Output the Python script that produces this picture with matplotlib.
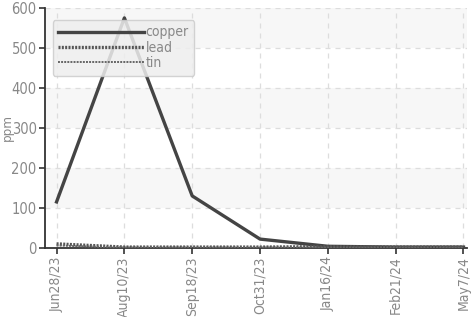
import matplotlib.pyplot as plt
from matplotlib.patches import Rectangle
from matplotlib import font_manager

dates = ['Jun28/23', 'Aug10/23', 'Sep18/23', 'Oct31/23', 'Jan16/24', 'Feb21/24', 'May7/24']
copper = [115, 575, 130, 22, 4, 2, 2]
lead = [10, 2, 2, 2, 3, 2, 2]
tin = [6, 1, 1, 1, 1, 1, 1]

names = {f.name for f in font_manager.fontManager.ttflist}
fam = 'Liberation Sans Narrow' if 'Liberation Sans Narrow' in names else 'DejaVu Sans'
plt.rcParams['font.family'] = [fam, 'DejaVu Sans']
plt.rcParams['font.stretch'] = 'condensed'

fig = plt.figure(figsize=(4.74, 3.17), dpi=100)
ax = fig.add_axes((0.095, 0.218, 0.89, 0.757))

# alternating bands
for lo in (100, 300, 500):
    ax.add_patch(Rectangle((-1, lo), 10, 100, color='#f7f7f7', zorder=0, lw=0))

x = range(len(dates))
ax.plot(x, copper, color='#444444', lw=2.4, label='copper', zorder=3)
ax.plot(x, lead, color='#555555', lw=2.4, ls=(0, (0.6, 0.4)), label='lead', zorder=3)
ax.plot(x, tin, color='#666666', lw=1.4, ls=(0, (1, 0.6)), label='tin', zorder=3)

ax.set_xlim(-0.17, 6.05)
ax.set_ylim(0, 600)
ax.set_xticks(list(x))
ax.set_xticklabels(dates, rotation=90)
ax.set_yticks(range(0, 601, 100))
ax.grid(True, color='#dddddd', ls=(0, (4, 4)), lw=0.9)
ax.set_axisbelow(True)

for s in ('top', 'right'):
    ax.spines[s].set_visible(False)
for s in ('left', 'bottom'):
    ax.spines[s].set_color('#333333')
    ax.spines[s].set_linewidth(1.3)
ax.tick_params(colors='#333333', labelcolor='#888888', labelsize=10.5, length=4, width=1.2)
ax.tick_params(axis='y', pad=2)
ax.tick_params(axis='x', labelsize=10, pad=2)
ax.set_ylabel('ppm', color='#888888', fontsize=9.5)
ax.yaxis.set_label_coords(-0.074, 0.5)

leg = ax.legend(loc='upper left', bbox_to_anchor=(0.018, 0.95), borderaxespad=0,
                handlelength=6.2, handletextpad=0.1, labelspacing=0.1, fontsize=10,
                fancybox=True, framealpha=0.85, borderpad=0.4, labelcolor='#888888')
leg.get_frame().set_facecolor('#eeeeee')
leg.get_frame().set_edgecolor('#cccccc')

fig.savefig('out.png', dpi=100)
